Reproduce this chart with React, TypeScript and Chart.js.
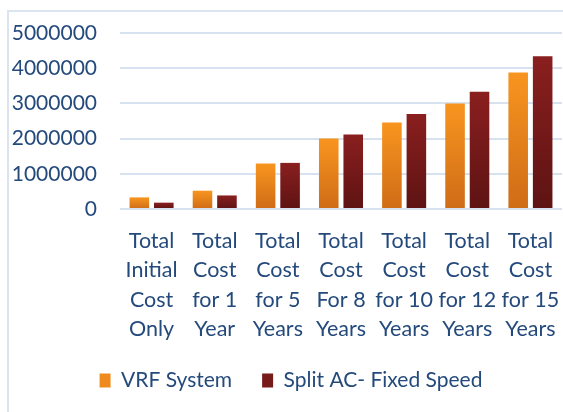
import React, { useEffect, useRef } from "react";
import { Chart, registerables } from "chart.js";

Chart.register(...registerables);

const categories: string[][] = [
  ["Total", "Initial", "Cost", "Only"],
  ["Total", "Cost", "for 1", "Year"],
  ["Total", "Cost", "for 5", "Years"],
  ["Total", "Cost", "For 8", "Years"],
  ["Total", "Cost", "for 10", "Years"],
  ["Total", "Cost", "for 12", "Years"],
  ["Total", "Cost", "for 15", "Years"],
];
const vrfSystem = [330000, 520000, 1290000, 2000000, 2460000, 3000000, 3880000];
const splitAC = [180000, 385000, 1310000, 2120000, 2700000, 3330000, 4340000];
const seriesNames = ["VRF System", "Split AC- Fixed Speed"];

const TEXT = "#244a7c";
const GRID = "#d7e2f0";

function gradientFor(top: string, bottom: string, solid: string) {
  return (ctx: any) => {
    const chart = ctx.chart;
    const y = chart.scales?.y;
    if (!y || ctx.type !== "data" || ctx.parsed == null) return solid;
    const yTop = y.getPixelForValue(ctx.parsed.y);
    const yBot = y.getPixelForValue(0);
    if (!isFinite(yTop) || !isFinite(yBot) || yTop === yBot) return solid;
    const g = chart.ctx.createLinearGradient(0, yTop, 0, yBot);
    g.addColorStop(0, top);
    g.addColorStop(1, bottom);
    return g;
  };
}

const shiftLegend = {
  id: "shiftLegend",
  afterLayout(chart: any) {
    const lg = chart.legend;
    if (lg) {
      lg.left += 10;
      lg.right += 10;
    }
  },
};

export default function App() {
  const ref = useRef<HTMLCanvasElement>(null);
  useEffect(() => {
    document.body.style.margin = "0";
    const chart = new Chart(ref.current!, {
      type: "bar",
      data: {
        labels: categories,
        datasets: [
          {
            label: seriesNames[0],
            data: vrfSystem,
            backgroundColor: gradientFor("#f8951f", "#cf6c17", "#ee8a1e"),
            categoryPercentage: 0.775,
            barPercentage: 0.8,
          },
          {
            label: seriesNames[1],
            data: splitAC,
            backgroundColor: gradientFor("#8a1f1f", "#5e1313", "#761a1a"),
            categoryPercentage: 0.775,
            barPercentage: 0.8,
          },
        ],
      },
      plugins: [shiftLegend],
      options: {
        animation: false,
        responsive: false,
        maintainAspectRatio: false,
        layout: { padding: { top: 33, left: 0, right: 1, bottom: 11 } },
        plugins: {
          tooltip: { enabled: false },
          legend: {
            position: "bottom",
            labels: {
              font: { family: "Lato", size: 21 },
              color: TEXT,
              boxWidth: 11,
              boxHeight: 14,
              padding: 30,
              generateLabels: (c: any) => {
                const cols = ["#ee8a1e", "#761a1a"];
                return c.data.datasets.map((d: any, i: number) => ({
                  text: d.label,
                  fillStyle: cols[i],
                  strokeStyle: cols[i],
                  lineWidth: 0,
                  fontColor: TEXT,
                  datasetIndex: i,
                  hidden: false,
                }));
              },
            },
          },
        },
        scales: {
          x: {
            grid: { display: false, drawTicks: false },
            border: { display: false },
            ticks: {
              autoSkip: false,
              maxRotation: 0,
              padding: 18,
              color: TEXT,
              font: { family: "Lato", size: 21.5, lineHeight: 1.35 },
            },
            afterFit: (s: any) => {
              s.height = 131;
              s.paddingLeft = 0;
              s.paddingRight = 0;
            },
          },
          y: {
            min: 0,
            max: 5000000,
            ticks: {
              stepSize: 1000000,
              padding: 23,
              color: TEXT,
              font: { family: "Lato", size: 21 },
              callback: (v: any) => String(v),
            },
            grid: { color: GRID, lineWidth: 2, drawTicks: false },
            border: { display: false },
            afterFit: (s: any) => {
              s.width = 120;
              s.paddingTop = 0;
              s.paddingBottom = 0;
            },
          },
        },
      },
    });
    return () => chart.destroy();
  }, []);
  return (
    <div style={{ position: "relative", width: 563, height: 412, overflow: "hidden" }}>
      <div
        style={{
          position: "absolute",
          left: 7,
          top: 10,
          width: 600,
          height: 420,
          border: "2px solid #dbe5f2",
          boxSizing: "border-box",
        }}
      />
      <canvas
        ref={ref}
        width={563}
        height={412}
        style={{ position: "absolute", left: 0, top: 0, width: 563, height: 412 }}
      />
    </div>
  );
}
